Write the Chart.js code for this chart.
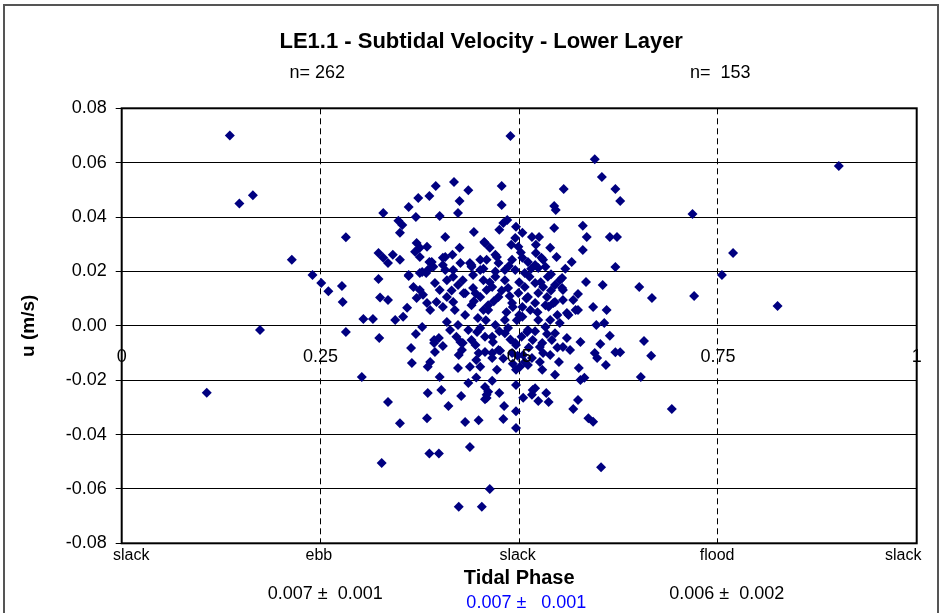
<!DOCTYPE html>
<html><head><meta charset="utf-8">
<script src="https://cdn.jsdelivr.net/npm/chart.js@4/dist/chart.umd.min.js"></script>
<style>html,body{margin:0;padding:0;background:#fff;overflow:hidden}canvas{display:block}</style>
</head><body>
<canvas id="c" width="943" height="613"></canvas>
<script>
// ---- data (tidal phase 0..1, subtidal velocity u in m/s) ----
const phaseEdge = [0.136,0.148,0.165,0.174,0.107,0.214,0.240,0.251,0.260,0.277,0.278,0.282,0.282,0.304,0.316,0.302,0.327,0.324,0.329,0.323,0.329,0.323,0.325];
const velEdge   = [0.070,0.045,0.048,-0.0015,-0.0246,0.0243,0.0187,0.0157,0.0127,0.0146,0.0088,0.0326,-0.0023,0.0025,0.0025,-0.0188,-0.0505,-0.0045,0.0415,0.0268,0.0250,0.0172,0.0104];

const phaseRight = [0.902,0.718,0.769,0.755,0.825,0.720,0.667,0.651,0.621,0.614,0.623,0.605,0.610,0.607,0.604,0.621,0.627,0.595,0.657,0.666,0.653,0.692,0.621,0.627,0.609,0.614,0.603,0.602,0.597];
const velRight   = [0.0588,0.0411,0.0268,0.0187,0.0073,0.011,0.0102,0.0143,0.0216,0.0327,0.0327,0.0150,0.0058,0.001,0.0547,0.0503,0.0459,0.0613,-0.0056,-0.011,-0.0188,-0.0306,-0.0097,-0.0097,-0.0144,-0.0037,-0.052,-0.0067,0.0003];

const phaseLow = [0.387,0.399,0.438,0.463,0.424,0.453,0.496,0.496,0.480,0.449,0.432,0.384,0.350,0.335,0.385,0.402,0.411,0.427,0.457,0.461,0.475,0.481,0.496,0.505,0.517,0.524,0.534,0.537,0.436,0.446,0.466,0.568,0.574,0.587,0.593,0.575,0.582,0.577,0.595,0.598,0.545,0.529,0.550,0.539,0.560,0.555,0.564,0.577];
const velLow   = [-0.047,-0.047,-0.0446,-0.060,-0.0666,-0.0666,-0.0376,-0.0314,-0.0343,-0.0347,-0.0354,-0.034,-0.0358,-0.028,-0.0247,-0.0236,-0.0295,-0.0258,-0.027,-0.0243,-0.0247,-0.0295,-0.0218,-0.0265,-0.0236,-0.0277,-0.0247,-0.028,-0.021,-0.019,-0.0202,-0.0306,-0.0273,-0.034,-0.0353,-0.0155,-0.0191,-0.0199,-0.010,-0.0118,-0.018,-0.0162,-0.0133,-0.0107,-0.0045,-0.0078,-0.0089,-0.006];

const phaseNeg = [0.364,0.365,0.370,0.378,0.385,0.388,0.394,0.393,0.399,0.404,0.400,0.409,0.421,0.424,0.423,0.429,0.438,0.449,0.451,0.440,0.447,0.457,0.466,0.472,0.476,0.496,0.496,0.505,0.511,0.526,0.517,0.510,0.486,0.393,0.426,0.446,0.457,0.459,0.520,0.516,0.459,0.507,0.529,0.545,0.541,0.466,0.482,0.495,0.491,0.474,0.466,0.501,0.516,0.526];
const velNeg   = [-0.0082,-0.0137,-0.003,-0.0004,-0.0151,-0.0133,-0.0096,-0.0063,-0.0045,-0.0074,-0.0188,0.0014,-0.004,-0.0107,-0.0155,-0.0063,-0.0151,-0.0100,-0.0151,-0.0052,-0.0023,-0.004,-0.0100,-0.0162,-0.0092,-0.0071,-0.0162,-0.0107,-0.0144,-0.0078,-0.0052,-0.0023,-0.0008,-0.0052,-0.006,-0.0126,-0.0225,-0.0254,-0.023,-0.0254,-0.0266,-0.0133,-0.0063,-0.0027,-0.0052,-0.004,-0.0027,-0.0063,-0.0100,-0.0089,-0.0118,-0.0151,-0.0118,-0.0133];

const phaseUp = [0.489,0.418,0.395,0.436,0.478,0.387,0.373,0.361,0.425,0.423,
                 0.478,0.370,0.400,0.348,0.353,0.350,0.485,0.475,0.480,0.496,
                 0.443,0.407,0.544,0.546,0.556,0.544,0.580,0.585,0.580,0.566,
                 0.584,0.574,0.593,0.547,0.539,0.516,0.525,0.504,0.521,0.521,
                 0.341,0.350,0.335,0.371,0.375,0.384,0.369,0.425,0.457,0.463,
                 0.472,0.407,0.416,0.390,0.385,0.378,0.426,0.440,0.451,0.491,
                 0.361,0.335,0.359,0.344,0.354,0.456,0.375,0.387,0.392];
const velUp   = [0.0698,0.0529,0.0514,0.0499,0.0514,0.0477,0.0470,0.0437,0.0459,0.0415,
                 0.0444,0.0400,0.0404,0.0386,0.0371,0.0342,0.0389,0.0353,0.0378,0.0364,
                 0.0345,0.0327,0.0441,0.0426,0.0503,0.0360,0.0368,0.0327,0.0279,0.0235,
                 0.0161,0.0117,0.0069,0.0253,0.0287,0.0327,0.0327,0.0342,0.0298,0.0268,
                 0.0261,0.0243,0.0231,0.0305,0.0287,0.0291,0.0272,0.0287,0.0305,0.0287,
                 0.0253,0.0253,0.0261,0.0235,0.0205,0.0198,0.0231,0.0224,0.0243,0.0243,
                 0.0187,0.0095,0.0066,0.0021,0.0033,0.0308,0.0253,0.0235,0.0217];

const phaseMid = [0.404,0.404,0.383,0.407,0.417,0.438,0.459,0.361,0.375,0.367,
                  0.375,0.379,0.394,0.400,0.409,0.417,0.423,0.429,0.440,0.442,
                  0.451,0.455,0.432,0.442,0.451,0.459,0.371,0.384,0.396,0.404,
                  0.417,0.409,0.495,0.499,0.490,0.530,0.520,0.511,0.504,0.470,
                  0.474,0.482,0.495,0.507,0.524,0.533,0.536,0.554,0.545,0.554,
                  0.555,0.545,0.530,0.520,0.524,0.535,0.507,0.511,0.499,0.486,
                  0.482,0.470,0.466,0.474,0.504,0.520,0.533,0.491,0.461,0.388,
                  0.571,0.562,0.551,0.539,0.533,0.524,0.511,0.514,0.504,0.492,
                  0.482,0.470,0.461,0.419,0.432,0.440,0.448,0.423,0.436,0.451,
                  0.455,0.413,0.445,0.428,0.457,0.551,0.555,0.543,0.568,0.560,
                  0.574];
const velMid   = [0.0250,0.0224,0.0194,0.0205,0.0205,0.0231,0.0243,0.0183,0.0194,0.0143,
                  0.0132,0.0114,0.0157,0.0132,0.0168,0.0180,0.0150,0.0168,0.0217,0.0187,
                  0.0205,0.0168,0.0120,0.0139,0.0106,0.0132,0.0102,0.0084,0.0088,0.0069,
                  0.0088,0.0106,0.0323,0.0291,0.0298,0.0243,0.0224,0.0235,0.0250,0.0261,
                  0.0231,0.0205,0.0205,0.0194,0.0213,0.0217,0.0180,0.0176,0.0150,0.0139,
                  0.0095,0.0088,0.0143,0.0157,0.0121,0.0106,0.0143,0.0106,0.0121,0.0139,
                  0.0168,0.0180,0.0143,0.0106,0.0069,0.0084,0.0076,0.0084,0.0076,0.0058,
                  0.0058,0.0040,0.001,0.0021,-0.0004,0.0021,-0.0015,0.0058,0.0033,0.0069,
                  0.0021,0.0003,0.0058,0.0058,0.0040,0.0076,0.0029,0.0003,-0.0015,-0.0008,
                  0.0058,-0.0015,-0.0071,-0.0089,-0.0096,0.0168,0.0132,0.0084,0.0095,0.0047,
                  0.0058];

const phaseCore = [0.445,0.463,0.478,0.488,0.500,0.513,0.527,0.540,0.468,0.484,
                   0.497,0.509,0.523,0.537,0.548,0.458,0.475,0.489,0.503,0.520,
                   0.535,0.548,0.480,0.492,0.512,0.530,0.470,0.487,0.502,0.515,
                   0.528,0.455,0.443,0.430,0.415,0.467,0.498,0.540,0.558,0.500];
const velCore   = [0.012,0.016,0.013,0.011,0.016,0.018,0.016,0.013,0.009,0.005,
                   0.002,0.010,0.005,0.007,0.004,0.002,-0.002,-0.005,-0.004,-0.002,
                   -0.003,-0.008,-0.012,-0.014,-0.008,-0.010,0.020,0.022,0.027,0.021,
                   0.025,0.021,0.009,0.012,0.013,-0.006,-0.011,0.019,0.021,0.004];

// ---- texts ----
const chartTitle = 'LE1.1 - Subtidal Velocity - Lower Layer';
const countLabels = ['n= 262', 'n=  153'];
const countAt = [0.246, 0.753];
const axisNumLabels = ['0', '0.25', '0.5', '0.75', '1'];
const axisNumAt = [0, 0.25, 0.5, 0.75, 1];
const phaseNames = ['slack', 'ebb', 'slack', 'flood', 'slack'];
const phaseNamesAt = [0.012, 0.248, 0.498, 0.749, 0.983];
const statLabels = ['0.007 \u00b1  0.001', '0.006 \u00b1  0.002'];
const statAt = [0.256, 0.761];
const statAll = '0.007 \u00b1   0.001';
const statAllAt = 0.509;
const xTitle = 'Tidal Phase';
const yTitle = 'u (m/s)';

const groupsP = [phaseEdge, phaseRight, phaseLow, phaseNeg, phaseUp, phaseMid, phaseCore];
const groupsV = [velEdge, velRight, velLow, velNeg, velUp, velMid, velCore];
const points = [];
groupsP.forEach((g, gi) => {
  const n = Math.min(g.length, groupsV[gi].length);
  for (let i = 0; i < n; i++) points.push({x: g[i], y: groupsV[gi][i]});
});

const FONT = '"Liberation Sans", Arial, sans-serif';

const decor = {
  id: 'decor',
  beforeDraw(chart) {
    const ctx = chart.ctx;
    ctx.save();
    ctx.fillStyle = '#fff';
    ctx.fillRect(0, 0, chart.width, chart.height);
    ctx.strokeStyle = '#555';
    ctx.lineWidth = 2;
    ctx.strokeRect(4, 5, 934, 640);
    ctx.restore();
  },
  afterDatasetsDraw(chart) {
    const {ctx, chartArea: ca, scales: {x, y}} = chart;
    ctx.save();
    // plot frame
    ctx.strokeStyle = '#000';
    ctx.lineWidth = 2;
    ctx.strokeRect(ca.left, ca.top, ca.right - ca.left, ca.bottom - ca.top);

    ctx.fillStyle = '#000';
    ctx.textAlign = 'center';
    ctx.textBaseline = 'middle';
    // numeric phase labels on zero line
    ctx.font = '18px ' + FONT;
    const y0 = y.getPixelForValue(0);
    axisNumLabels.forEach((t, i) => ctx.fillText(t, x.getPixelForValue(axisNumAt[i]), y0 + 31));
    // phase names under plot
    ctx.font = '16px ' + FONT;
    phaseNames.forEach((t, i) => ctx.fillText(t, x.getPixelForValue(phaseNamesAt[i]), ca.bottom + 12));
    // title
    ctx.font = 'bold 22px ' + FONT;
    ctx.fillText(chartTitle, x.getPixelForValue(0.5) - 38, 42);
    // counts
    ctx.font = '18px ' + FONT;
    countLabels.forEach((t, i) => ctx.fillText(t, x.getPixelForValue(countAt[i]), 73));
    // x title
    ctx.font = 'bold 20px ' + FONT;
    ctx.fillText(xTitle, x.getPixelForValue(0.5), 578);
    // stats
    ctx.font = '18px ' + FONT;
    statLabels.forEach((t, i) => ctx.fillText(t, x.getPixelForValue(statAt[i]), 594));
    ctx.fillStyle = '#0000ff';
    ctx.fillText(statAll, x.getPixelForValue(statAllAt), 603);
    // y title
    ctx.fillStyle = '#000';
    ctx.font = 'bold 19px ' + FONT;
    ctx.translate(29, (ca.top + ca.bottom) / 2);
    ctx.rotate(-Math.PI / 2);
    ctx.fillText(yTitle, 0, 0);
    ctx.restore();
  }
};

new Chart(document.getElementById('c'), {
  type: 'scatter',
  data: {
    datasets: [{
      data: points,
      pointStyle: 'rectRot',
      pointRadius: 5,
      pointHoverRadius: 5,
      backgroundColor: '#000080',
      borderColor: '#000080',
      borderWidth: 0
    }]
  },
  options: {
    responsive: false,
    animation: false,
    devicePixelRatio: 1,
    events: [],
    layout: {padding: {left: 0, top: 108.3, right: 26.3, bottom: 69.7}},
    plugins: {legend: {display: false}, tooltip: {enabled: false}, title: {display: false}},
    scales: {
      x: {
        type: 'linear', min: 0, max: 1,
        ticks: {display: false, stepSize: 0.25},
        grid: {
          drawTicks: false,
          color: (c) => (c.tick && (c.tick.value === 0 || c.tick.value === 1)) ? 'rgba(0,0,0,0)' : '#000',
          lineWidth: 1
        },
        border: {display: false, dash: [6, 4]},
        afterFit: (s) => { s.height = 0; }
      },
      y: {
        type: 'linear', min: -0.08, max: 0.08,
        ticks: {
          stepSize: 0.02, color: '#000', padding: 9,
          font: {family: FONT, size: 18},
          callback: (v) => v.toFixed(2)
        },
        grid: {color: '#000', lineWidth: 1, drawTicks: true, tickLength: 6},
        border: {display: false},
        afterFit: (s) => { s.width = 121.7; }
      }
    }
  },
  plugins: [decor]
});
</script>
</body></html>
